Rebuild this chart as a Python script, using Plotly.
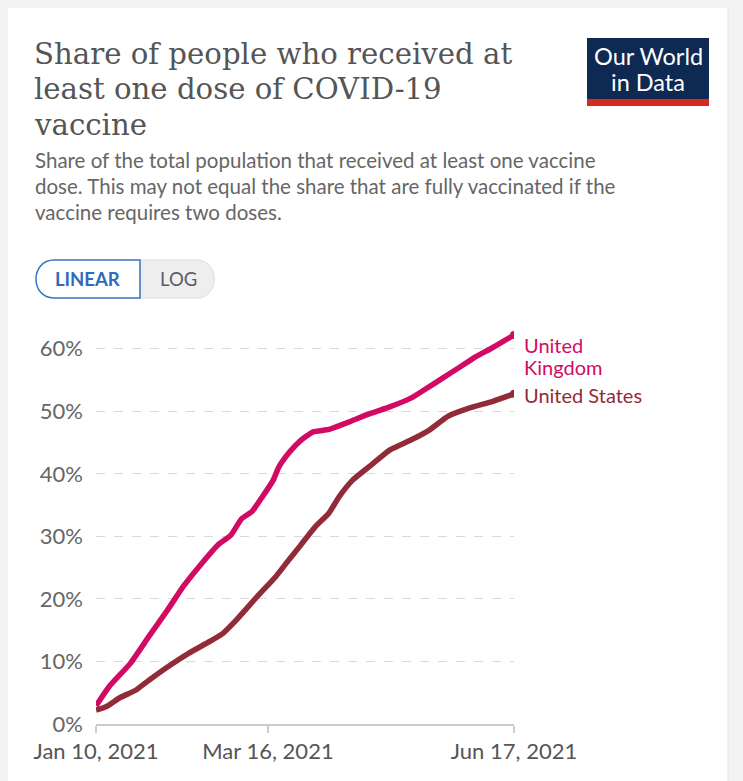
import plotly.graph_objects as go

uk_dates = ["2021-01-10", "2021-01-15", "2021-01-23", "2021-01-30", "2021-02-06", "2021-02-12",
            "2021-02-18", "2021-02-25", "2021-03-02", "2021-03-06", "2021-03-10", "2021-03-14",
            "2021-03-18", "2021-03-20", "2021-03-24", "2021-03-28", "2021-04-02", "2021-04-08",
            "2021-04-15", "2021-04-24", "2021-05-01", "2021-05-09", "2021-05-14", "2021-05-21",
            "2021-05-28", "2021-06-02", "2021-06-09", "2021-06-17"]
uk_values = [2.9, 6.0, 9.7, 14.0, 18.2, 22.0,
             25.2, 28.6, 30.2, 32.8, 34.0, 36.4,
             39.0, 41.0, 43.4, 45.2, 46.7, 47.1,
             48.2, 49.7, 50.7, 52.1, 53.4, 55.3,
             57.2, 58.6, 60.2, 62.2]

us_dates = ["2021-01-10", "2021-01-14", "2021-01-19", "2021-01-25", "2021-01-30", "2021-02-07",
            "2021-02-14", "2021-02-22", "2021-02-27", "2021-03-04", "2021-03-12", "2021-03-19",
            "2021-03-24", "2021-03-28", "2021-04-03", "2021-04-08", "2021-04-12", "2021-04-17",
            "2021-04-24", "2021-05-01", "2021-05-09", "2021-05-16", "2021-05-23", "2021-05-31",
            "2021-06-09", "2021-06-17"]
us_values = [2.2, 2.8, 4.2, 5.4, 7.0, 9.4,
             11.3, 13.2, 14.5, 16.6, 20.4, 23.6,
             26.3, 28.4, 31.6, 33.7, 36.4, 39.0,
             41.4, 43.8, 45.4, 47.0, 49.2, 50.5,
             51.6, 52.8]

tick_vals = ["2021-01-10", "2021-03-16", "2021-06-17"]
tick_text = ["Jan 10, 2021", "Mar 16, 2021", "Jun 17, 2021"]
y_ticks = [0, 10, 20, 30, 40, 50, 60]
y_text = ["0%", "10%", "20%", "30%", "40%", "50%", "60%"]

UK_COLOR = "#d30a63"
US_COLOR = "#922b38"

fig = go.Figure()
fig.add_trace(go.Scatter(x=uk_dates, y=uk_values, mode="lines",
                         line=dict(color=UK_COLOR, width=5.5, shape="spline", smoothing=0.5),
                         name="United Kingdom"))
fig.add_trace(go.Scatter(x=us_dates, y=us_values, mode="lines",
                         line=dict(color=US_COLOR, width=5.5, shape="spline", smoothing=0.5),
                         name="United States"))
fig.add_trace(go.Scatter(x=[uk_dates[-1], us_dates[-1]], y=[uk_values[-1], us_values[-1]],
                         mode="markers", marker=dict(color=[UK_COLOR, US_COLOR], size=8),
                         showlegend=False))

W, H = 743, 781
OFF = 8  # page body margin
L, R, T, B = 88, 237, 322, 65
PW = W - L - R
PH = H - T - B


def px(sx):
    return (sx - OFF - L) / PW


def py(sy):
    return (H - B - (sy - OFF)) / PH


shapes = [
    dict(type="rect", xref="paper", yref="paper", x0=px(728), x1=px(760), y0=py(800), y1=py(0),
         fillcolor="#f3f3f3", line_width=0, layer="below"),
    dict(type="line", xref="paper", yref="paper", x0=px(728), x1=px(728), y0=py(800), y1=py(8),
         line=dict(color="#e4e4e4", width=1), layer="below"),
    # logo
    dict(type="rect", xref="paper", yref="paper", x0=px(587), x1=px(709), y0=py(99), y1=py(38),
         fillcolor="#0e2a52", line_width=0),
    dict(type="rect", xref="paper", yref="paper", x0=px(587), x1=px(709), y0=py(106), y1=py(99),
         fillcolor="#d42b21", line_width=0),
    # toggle
    dict(type="path", xref="paper", yref="paper",
         path=(f"M {px(140)} {py(260)} L {px(197)} {py(260)} "
               f"C {px(220)} {py(260)} {px(220)} {py(298)} {px(197)} {py(298)} "
               f"L {px(140)} {py(298)} Z"),
         fillcolor="#eeeeee", line=dict(color="#dddddd", width=1)),
    dict(type="path", xref="paper", yref="paper",
         path=(f"M {px(140)} {py(260)} L {px(54)} {py(260)} "
               f"C {px(30)} {py(260)} {px(30)} {py(298)} {px(54)} {py(298)} "
               f"L {px(140)} {py(298)} Z"),
         fillcolor="#ffffff", line=dict(color="#3a72c2", width=1.5)),
]


def txt(text, sx, sy, size, color, family="Lato", xanchor="left"):
    return dict(text=text, x=px(sx), y=py(sy), xref="paper", yref="paper",
                xanchor=xanchor, yanchor="middle", align="left", showarrow=False,
                font=dict(family=family, size=size, color=color))


title_lines = ["Share of people who received at", "least one dose of COVID-19", "vaccine"]
subtitle_lines = ["Share of the total population that received at least one vaccine",
                  "dose. This may not equal the share that are fully vaccinated if the",
                  "vaccine requires two doses."]

annotations = []
for i, t in enumerate(title_lines):
    annotations.append(txt(t, 32, 54 + 35.5 * i, 29.2, "#555555", family="DejaVu Serif"))
for i, t in enumerate(subtitle_lines):
    annotations.append(txt(t, 33, 160 + 26 * i, 20.5, "#666666"))
annotations += [
    txt("Our World", 648, 56, 23.5, "#ffffff", xanchor="center"),
    txt("in Data", 648, 82, 23.5, "#ffffff", xanchor="center"),
    txt("<b>LINEAR</b>", 87, 279, 18.5, "#2f6bbd", xanchor="center"),
    txt("LOG", 178, 279, 18.5, "#5b5b6b", xanchor="center"),
    txt("United", 522, 345, 20, UK_COLOR),
    txt("Kingdom", 522, 367, 20, UK_COLOR),
    txt("United States", 522, 395, 20, US_COLOR),
]

fig.update_layout(
    width=W, height=H,
    margin=dict(l=L, r=R, t=T, b=B, pad=0),
    paper_bgcolor="#ffffff", plot_bgcolor="#ffffff",
    showlegend=False,
    shapes=shapes, annotations=annotations,
    xaxis=dict(type="date", range=["2021-01-10", "2021-06-17"],
               tickvals=tick_vals, ticktext=tick_text,
               showgrid=False, zeroline=False,
               showline=True, linecolor="#cccccc", linewidth=1.5,
               ticks="outside", ticklen=7, tickcolor="#cccccc", tickwidth=1.5,
               tickfont=dict(family="Lato", size=22, color="#555555")),
    yaxis=dict(range=[0, 63], tickvals=y_ticks, ticktext=y_text,
               showgrid=True, gridcolor="#d9d9d9", griddash="dash", gridwidth=1,
               zeroline=False, showline=False, ticks="", ticklabelstandoff=12,
               tickfont=dict(family="Lato", size=22, color="#666666")),
)

fig.write_html("out.html", post_script="document.body.style.background='#f3f3f3';")
